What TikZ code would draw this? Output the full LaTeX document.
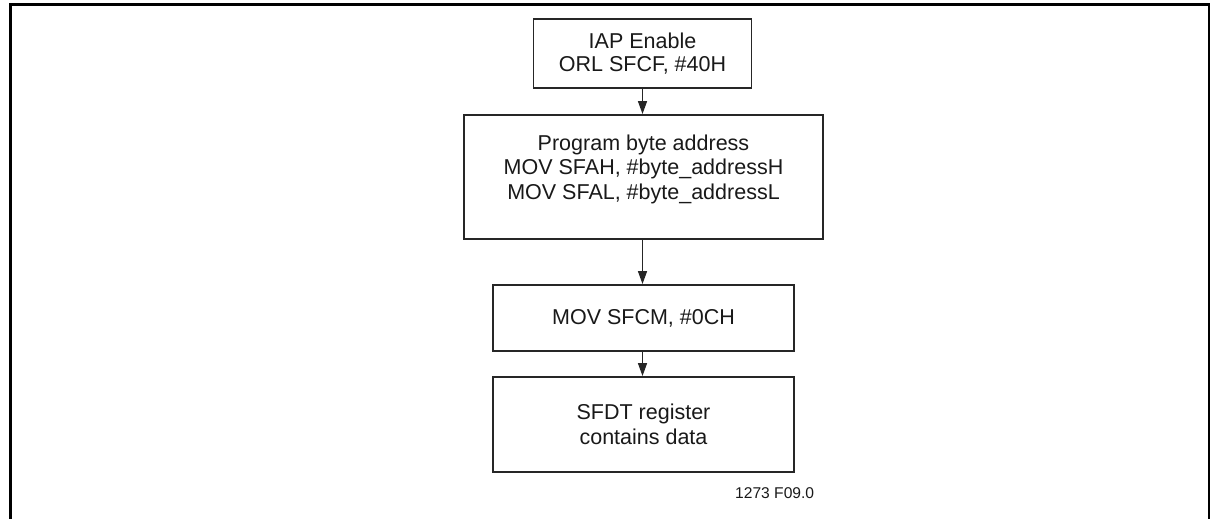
\documentclass[tikz,border=0pt]{standalone}
\usepackage{fontspec}
\setmainfont{Liberation Sans}
\usetikzlibrary{arrows.meta}
\definecolor{boxline}{HTML}{262626}
\tikzset{
  box/.style={draw=boxline, line width=1.9pt, inner sep=0pt, align=center,
              font=\fontsize{21.5}{24.5}\selectfont, text=black!90},
  flow/.style={draw=boxline, line width=1.5pt, -{Triangle[length=13pt,width=9pt]}},
  frameline/.style={draw=black, line width=2.6pt},
  tag/.style={font=\fontsize{15.6}{18}\selectfont, inner sep=0pt, text=black!90}
}
\begin{document}
\begin{tikzpicture}[x=1pt,y=-1pt]
\useasboundingbox (0,0) rectangle (1215,519);
\draw[frameline] (10.4,519) -- (10.4,4.3) -- (1208.8,4.3) -- (1208.8,519);
\node[box, minimum width=218pt, minimum height=69pt,
      font=\fontsize{21.5}{22.5}\selectfont] (b1) at (642.5,53.5)
  {IAP Enable\\ORL SFCF, \#40H};
\node[box, minimum width=359pt, minimum height=124pt] (b2) at (643.5,177)
  {\raisebox{0pt}[\height][\dimexpr\depth+14pt\relax]{\begin{tabular}{@{}c@{}}Program byte address\\MOV SFAH, \#byte\_addressH\\MOV SFAL, \#byte\_addressL\end{tabular}}};
\node[box, minimum width=301pt, minimum height=66pt] (b3) at (643.5,318)
  {MOV SFCM, \#0CH};
\node[box, minimum width=301pt, minimum height=95pt] (b4) at (643.5,424.5)
  {SFDT register\\contains data};
\draw[flow] (b1.south) -- (b2.north -| b1.south);
\draw[flow] (b2.south -| b1.south) -- (b3.north -| b1.south);
\draw[flow] (b3.south -| b1.south) -- (b4.north -| b1.south);
\node[tag, anchor=base west] (code) at (735,498) {1273 F09.0};
\end{tikzpicture}
\end{document}
